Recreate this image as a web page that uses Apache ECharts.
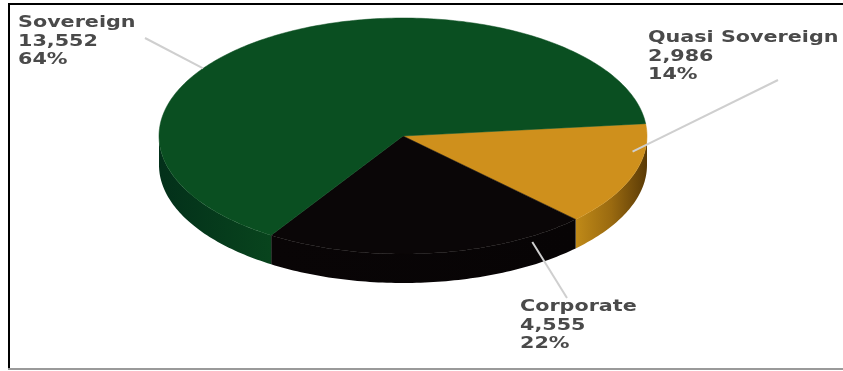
<!DOCTYPE html>
<html><head><meta charset="utf-8">
<script src="https://cdn.jsdelivr.net/npm/echarts@6/dist/echarts.min.js"></script>
<style>html,body{margin:0;padding:0;background:#fff}#c{width:843px;height:371px}</style>
</head><body><div id="c"></div><script>
// ---- data ----
const categories = ['Quasi Sovereign', 'Corporate', 'Sovereign'];
const values = [2986, 4555, 13552];

// ---- styles / layout (not data) ----
const topColors  = ['#cf901c', '#0a0607', '#0a4f21'];
const sideStops  = [
  [[0, '#c08a18'], [0.5, '#9a6a10'], [1, '#5a3a06']],
  [[0, '#090506'], [1, '#070405']],
  [[0, '#03301a'], [1, '#08441d']]
];
const CX = 403, CY = 136, RX = 244, RY = 118, DEPTH = 29, START = -6;
const labelLayout = [
  { angle: 8,   radial: 0.95, drop: 0, lineTo: [778, 80],  textAt: [648, 29] },
  { angle: 58,  radial: 1.0,  drop: 6, lineTo: [567, 298], textAt: [520, 298] },
  { angle: 215, radial: 1.0,  drop: 0, lineTo: [145, 38],  textAt: [18, 14] }
];

const total = values.reduce((a, b) => a + b, 0);
const fmt = v => v.toLocaleString('en-US');

function pt(deg, f, dy) {
  const r = deg * Math.PI / 180;
  return [CX + RX * f * Math.cos(r), CY + RY * f * Math.sin(r) + (dy || 0)];
}
function arc(a1, a2, f, dy) {
  const pts = [];
  const n = Math.max(2, Math.ceil(Math.abs(a2 - a1)));
  for (let k = 0; k <= n; k++) pts.push(pt(a1 + (a2 - a1) * k / n, f, dy));
  return pts;
}

function renderItem(params, api) {
  const i = params.dataIndex;
  const v = api.value(0);
  let before = 0;
  for (let k = 0; k < i; k++) before += values[k];
  const a1 = START + before / total * 360;
  const a2 = a1 + v / total * 360;
  const children = [];

  // visible front wall: screen angles in [0,180] (+360 shift)
  [0, 360].forEach(shift => {
    const s1 = Math.max(a1, shift), s2 = Math.min(a2, shift + 180);
    if (s2 > s1) {
      const poly = arc(s1, s2, 1, 0).concat(arc(s2, s1, 1, DEPTH));
      children.push({
        type: 'polygon', z2: 1,
        shape: { points: poly },
        style: {
          fill: { type: 'linear', x: 0, y: 0, x2: 1, y2: 0,
                  colorStops: sideStops[i].map(s => ({ offset: s[0], color: s[1] })) },
          stroke: null
        }
      });
    }
  });

  // top face
  children.push({
    type: 'polygon', z2: 2,
    shape: { points: [[CX, CY]].concat(arc(a1, a2, 1, 0)) },
    style: { fill: topColors[i], stroke: topColors[i], lineWidth: 0.5 }
  });

  // label + leader line
  const L = labelLayout[i];
  const anchor = pt(L.angle, L.radial, L.drop);
  children.push({
    type: 'line', z2: 5,
    shape: { x1: L.lineTo[0], y1: L.lineTo[1], x2: anchor[0], y2: anchor[1] },
    style: { stroke: '#cfcfcf', lineWidth: 2 }
  });
  const pct = Math.round(v / total * 100) + '%';
  children.push({
    type: 'text', z2: 6,
    x: L.textAt[0], y: L.textAt[1], scaleX: 1.38,
    style: {
      text: categories[i] + '\n' + fmt(v) + '\n' + pct,
      fontFamily: 'DejaVu Sans', fontWeight: 'bold', fontSize: 15,
      lineHeight: 18.5, fill: '#4a4a4a', align: 'left', verticalAlign: 'top'
    }
  });
  return { type: 'group', children: children };
}

const chart = echarts.init(document.getElementById('c'), null, { renderer: 'canvas' });
chart.setOption({
  backgroundColor: '#ffffff',
  animation: false,
  graphic: [
    { type: 'line', shape: { x1: 8, y1: 4, x2: 843, y2: 4 }, style: { stroke: '#000', lineWidth: 2 } },
    { type: 'line', shape: { x1: 9, y1: 3, x2: 9, y2: 370 }, style: { stroke: '#000', lineWidth: 2 } },
    { type: 'line', shape: { x1: 8, y1: 369, x2: 843, y2: 369 }, style: { stroke: '#9a9a9a', lineWidth: 2 } }
  ],
  series: [{
    type: 'custom',
    coordinateSystem: 'none',
    renderItem: renderItem,
    data: values.map((v, i) => ({ name: categories[i], value: [v] }))
  }]
});
</script></body></html>
